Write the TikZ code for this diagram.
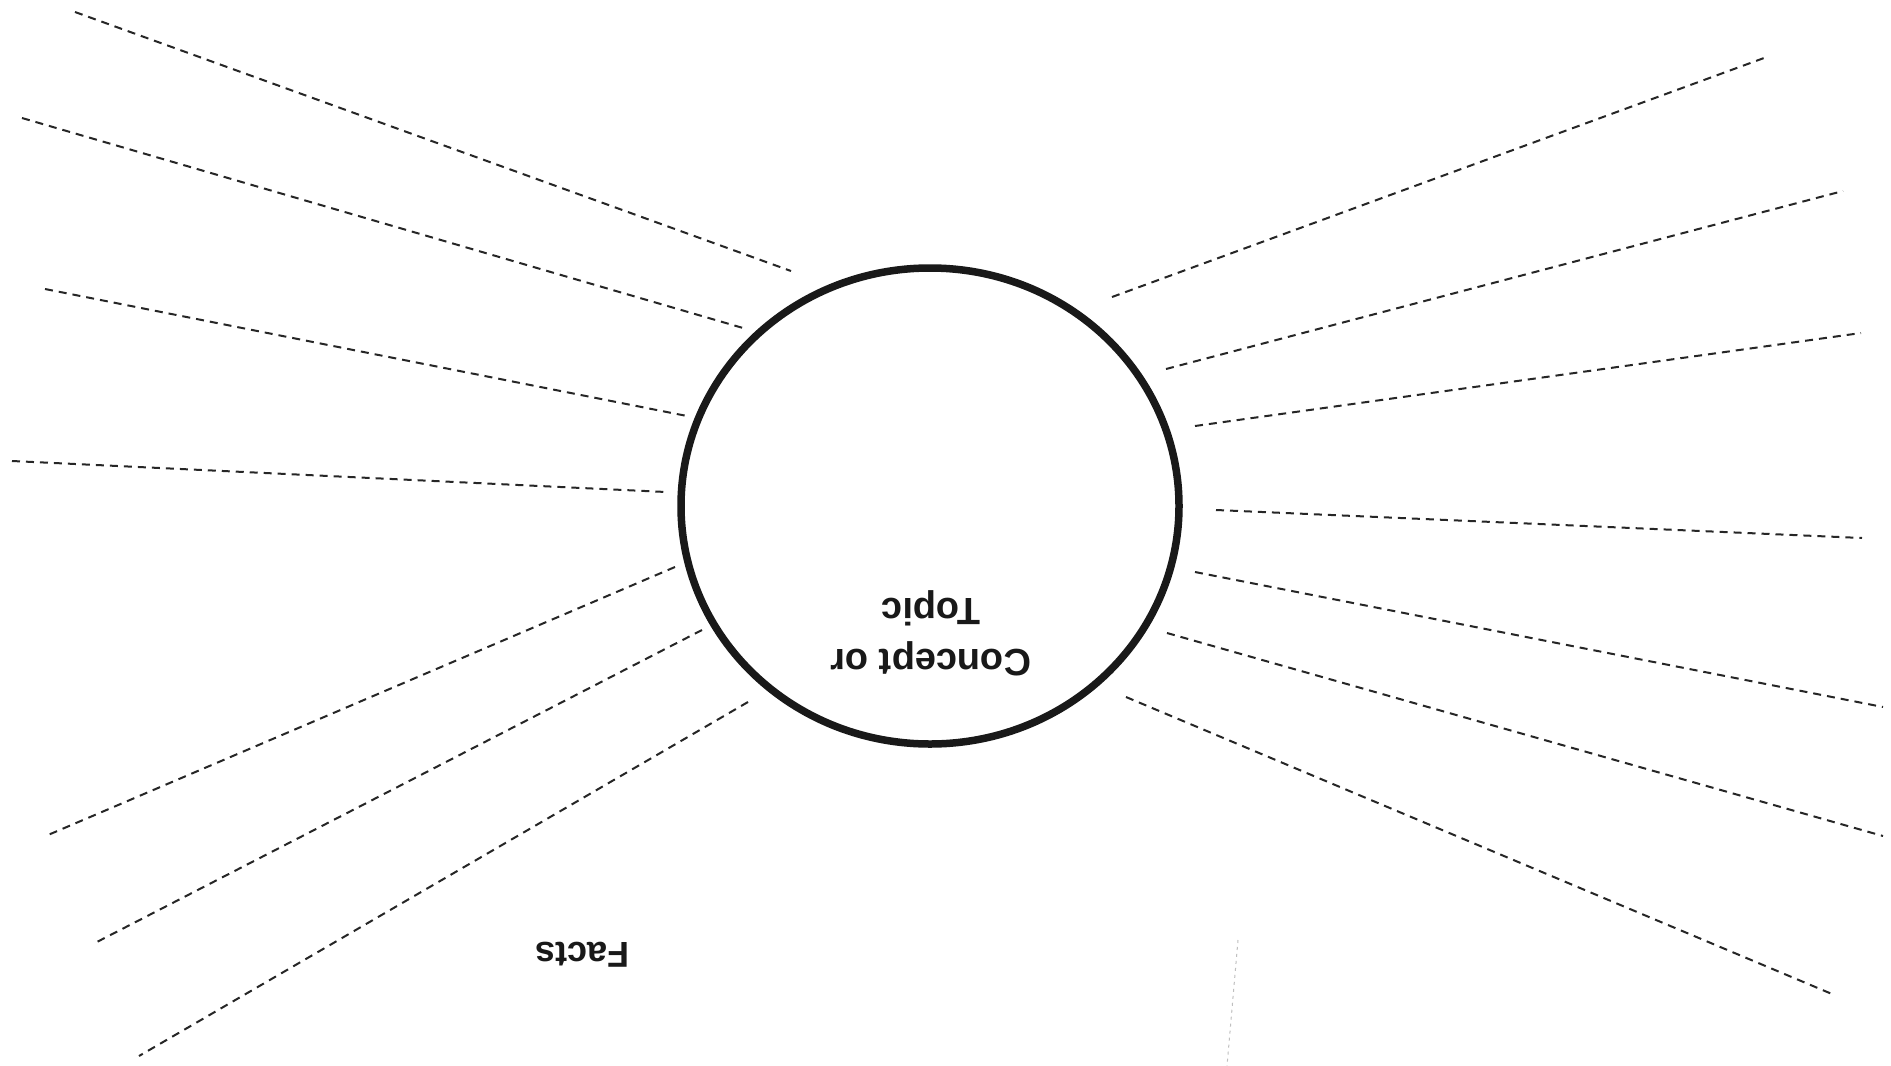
\documentclass[tikz,border=0pt]{standalone}
\usepackage{fontspec}
\setmainfont{Liberation Sans}
\usetikzlibrary{shapes.geometric}
\tikzset{
  spoke/.style={line width=2pt, dash pattern=on 8pt off 6pt, black!85},
  ring/.style={draw=black!90, line width=7.5pt, ellipse, minimum width=498pt, minimum height=476pt, inner sep=0pt},
  label/.style={text=black!90, rotate=180, align=center, inner sep=0pt}
}
\begin{document}
\begin{tikzpicture}[x=1pt,y=-1pt]
\useasboundingbox (0,0) rectangle (1891,1066);
\fill[white] (0,0) rectangle (1891,1066);
\node[ring] (topic) at (930,506) {};
\node[label, font=\fontsize{38}{51}\selectfont\bfseries] (concept) at (931,633) {Concept or\\Topic};
\node[label, font=\fontsize{36}{48}\selectfont\bfseries] (facts) at (582,955) {Facts};
% left spokes
\coordinate (l1a) at (75,12);   \coordinate (l1b) at (791,271);
\coordinate (l2a) at (22,118);  \coordinate (l2b) at (743,328);
\coordinate (l3a) at (45,289);  \coordinate (l3b) at (687,416);
\coordinate (l4a) at (12,461);  \coordinate (l4b) at (666,492);
\coordinate (l5a) at (675,567); \coordinate (l5b) at (48,835);
\coordinate (l6a) at (702,630); \coordinate (l6b) at (93,944);
\coordinate (l7a) at (748,702); \coordinate (l7b) at (139,1056);
% right spokes
\coordinate (r1a) at (1112,297); \coordinate (r1b) at (1764,58);
\coordinate (r2a) at (1166,369); \coordinate (r2b) at (1843,191);
\coordinate (r3a) at (1195,426); \coordinate (r3b) at (1861,333);
\coordinate (r4a) at (1216,510); \coordinate (r4b) at (1862,538);
\coordinate (r5a) at (1195,572); \coordinate (r5b) at (1883,707);
\coordinate (r6a) at (1167,633); \coordinate (r6b) at (1883,836);
\coordinate (r7a) at (1126,697); \coordinate (r7b) at (1832,994);
\foreach \s in {l1,l2,l3,l4,l5,l6,l7,r1,r2,r3,r4,r5,r6,r7}
  \draw[spoke] (\s a) -- (\s b);
% faint scan mark
\coordinate (m1) at (1238,940); \coordinate (m2) at (1227,1066);
\draw[black!25, line width=1pt, dash pattern=on 3pt off 4pt] (m1) -- (m2);
\end{tikzpicture}
\end{document}
